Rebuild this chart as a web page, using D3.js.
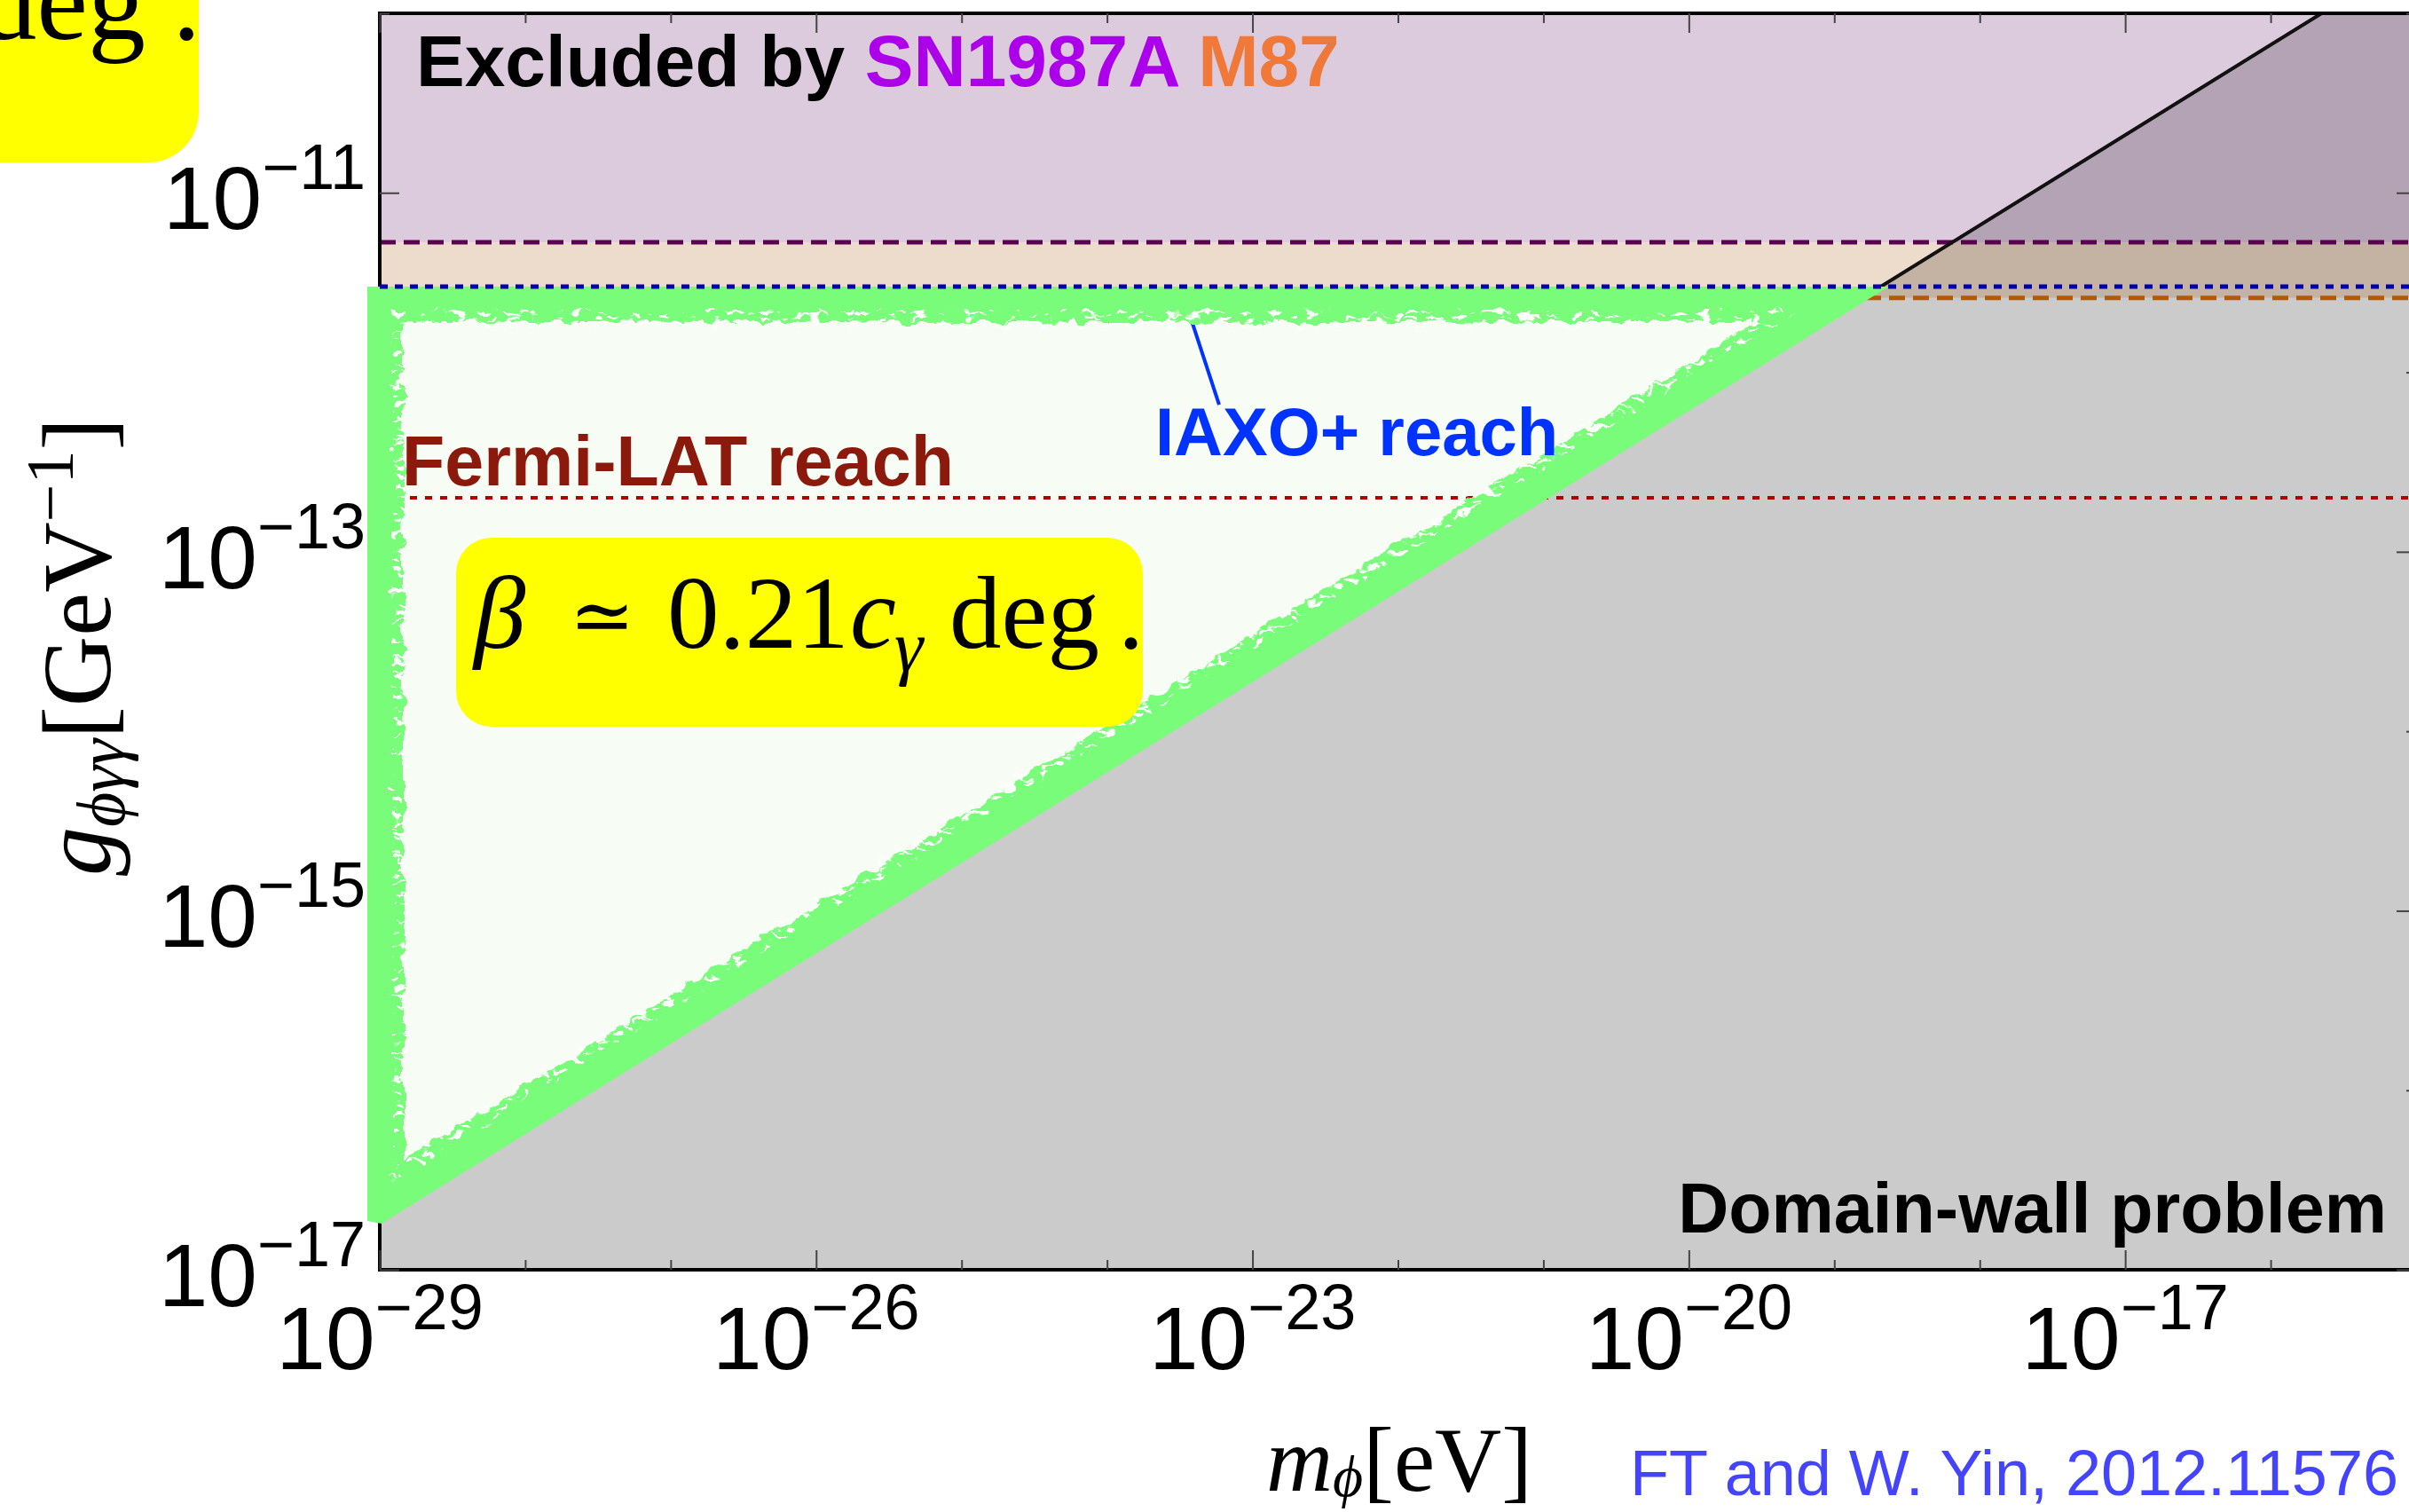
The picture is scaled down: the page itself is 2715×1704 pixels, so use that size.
<!DOCTYPE html>
<html>
<head>
<meta charset="utf-8">
<script src="https://cdn.jsdelivr.net/npm/d3@7"></script>
<style>
  html, body { margin: 0; padding: 0; background: #fff; }
  svg { display: block; }
  .sans { font-family: "Liberation Sans", Arial, Helvetica, sans-serif; }
  .serif { font-family: "Liberation Serif", "Times New Roman", serif; }
</style>
</head>
<body>
<div id="chart"></div>
<script>
// axis ranges
const xDomain = [1e-29, 1e-15];
const yDomain = [1e-17, 1e-10];
const xMajorExp = [-29, -26, -23, -20, -17];
const xMinorExp = [-28, -27, -25, -24, -22, -21, -19, -18, -16, -15];
const yMajorExp = [-17, -15, -13, -11];
const yMinorExp = [-16, -14, -12, -10];

// horizontal limits on g [GeV^-1]
const limitNames = ['SN1987A', 'M87', 'IAXO+', 'Fermi-LAT'];
const limitG = [5.3e-12, 2.6e-12, 3.0e-12, 2.0e-13];

// domain-wall boundary, g grows like sqrt(m)
const domainWallM = [1e-29, 2.24e-16];
const domainWallG = [1.96e-17, 1e-10];

// IAXO+ label pointer (m, g)
const pointerM = [3.2e-24, 5.9e-24];
const pointerG = [3.0e-12, 6.6e-13];

const W = 2715, H = 1704;
const plot = { left: 428, right: 2723, top: 15, bottom: 1431 };

const x = d3.scaleLog().domain(xDomain).range([plot.left, plot.right]);
const y = d3.scaleLog().domain(yDomain).range([plot.bottom, plot.top]);
const line = d3.line().x(d => x(d[0])).y(d => y(d[1]));

// log-log interpolation along the domain-wall line
const slope = Math.log10(domainWallG[1] / domainWallG[0]) / Math.log10(domainWallM[1] / domainWallM[0]);
const gDW = m => domainWallG[0] * Math.pow(m / domainWallM[0], slope);
const mDW = g => domainWallM[0] * Math.pow(g / domainWallG[0], 1 / slope);

const [gSN, gM87, gIAXO, gFermi] = limitG;

const svg = d3.select('#chart').append('svg')
  .attr('width', W).attr('height', H)
  .attr('viewBox', `0 0 ${W} ${H}`);

const defs = svg.append('defs');

const dwPoly = [
  [xDomain[0], gDW(xDomain[0])],
  [domainWallM[1], domainWallG[1]],
  [xDomain[1], yDomain[1]],
  [xDomain[1], yDomain[0]],
  [xDomain[0], yDomain[0]]
];
const tri = [
  [xDomain[0], gIAXO],
  [mDW(gIAXO), gIAXO],
  [xDomain[0], gDW(xDomain[0])]
];

defs.append('clipPath').attr('id', 'plotClip').append('rect')
  .attr('x', plot.left).attr('y', plot.top)
  .attr('width', plot.right - plot.left).attr('height', plot.bottom - plot.top);
defs.append('clipPath').attr('id', 'dwClip').append('path').attr('d', line(dwPoly) + 'Z');

// clip for the scribble: the triangle, pushed a little past the left axis and over the diagonal
const triPx = tri.map(d => [x(d[0]), y(d[1])]);
const clipPts = [
  [triPx[0][0] - 14, triPx[0][1]],
  [triPx[1][0] + 9, triPx[1][1]],
  [triPx[2][0] + 2, triPx[2][1] + 7],
  [triPx[2][0] - 14, triPx[2][1] + 4]
];
defs.append('clipPath').attr('id', 'triClip').append('path')
  .attr('d', 'M' + clipPts.join('L') + 'Z');

// scribble outline: same triangle, left side nudged out so the band is thinner there
const scribPx = [[triPx[0][0] - 13, triPx[0][1]], triPx[1], [triPx[2][0] - 13, triPx[2][1] + 8]];
const scribPath = 'M' + scribPx.join('L') + 'Z';

const rough = defs.append('filter').attr('id', 'rough')
  .attr('x', '-10%').attr('y', '-10%').attr('width', '120%').attr('height', '120%');
rough.append('feTurbulence').attr('type', 'fractalNoise').attr('baseFrequency', '0.05')
  .attr('numOctaves', 3).attr('seed', 4).attr('result', 'n');
rough.append('feDisplacementMap').attr('in', 'SourceGraphic').attr('in2', 'n')
  .attr('scale', 16).attr('xChannelSelector', 'R').attr('yChannelSelector', 'G');

const speck = defs.append('filter').attr('id', 'speck')
  .attr('x', '-5%').attr('y', '-5%').attr('width', '110%').attr('height', '110%');
speck.append('feTurbulence').attr('type', 'fractalNoise').attr('baseFrequency', '0.07 0.18')
  .attr('numOctaves', 2).attr('seed', 9).attr('result', 't');
speck.append('feColorMatrix').attr('in', 't').attr('type', 'matrix')
  .attr('values', '0 0 0 0 0.97  0 0 0 0 0.99  0 0 0 0 0.96  16 0 0 0 -9.2').attr('result', 'b');
speck.append('feComposite').attr('in', 'b').attr('in2', 'SourceGraphic').attr('operator', 'in');

const triPath = line(tri) + 'Z';
const mask = defs.append('mask').attr('id', 'innerMask').attr('maskUnits', 'userSpaceOnUse')
  .attr('x', 0).attr('y', 0).attr('width', W).attr('height', H);
mask.append('path').attr('d', scribPath).attr('fill', 'none').attr('stroke', '#fff').attr('stroke-width', 92);
mask.append('path').attr('d', scribPath).attr('fill', 'none').attr('stroke', '#000').attr('stroke-width', 54);

// ---- background regions ----
const pg = svg.append('g').attr('clip-path', 'url(#plotClip)');
pg.append('rect').attr('x', plot.left).attr('y', plot.top)
  .attr('width', plot.right - plot.left).attr('height', plot.bottom - plot.top).attr('fill', '#fff');
pg.append('rect').attr('x', plot.left).attr('y', y(yDomain[1]))
  .attr('width', plot.right - plot.left).attr('height', y(gSN) - y(yDomain[1])).attr('fill', '#dccbdd');
pg.append('rect').attr('x', plot.left).attr('y', y(gSN))
  .attr('width', plot.right - plot.left).attr('height', y(gM87) - y(gSN)).attr('fill', '#eddbcc');

const dw = pg.append('g').attr('clip-path', 'url(#dwClip)');
dw.append('rect').attr('x', plot.left).attr('y', plot.top)
  .attr('width', plot.right - plot.left).attr('height', plot.bottom - plot.top).attr('fill', '#cbcbcb');
dw.append('rect').attr('x', plot.left).attr('y', y(yDomain[1]))
  .attr('width', plot.right - plot.left).attr('height', y(gSN) - y(yDomain[1])).attr('fill', '#b3a3b5');
dw.append('rect').attr('x', plot.left).attr('y', y(gSN))
  .attr('width', plot.right - plot.left).attr('height', y(gM87) - y(gSN)).attr('fill', '#c4b3a3');

// allowed triangle
pg.append('path').attr('d', triPath).attr('fill', '#f7fcf5');

// limit lines
const hline = (g, color, width, dash) => pg.append('line')
  .attr('x1', plot.left).attr('x2', plot.right).attr('y1', y(g)).attr('y2', y(g))
  .attr('stroke', color).attr('stroke-width', width).attr('stroke-dasharray', dash);
hline(gSN, '#5a0050', 5, '18,9');
hline(gM87, '#b35900', 5, '18,9');
hline(gFermi, '#b00000', 4, '8,9');

// domain-wall boundary
pg.append('path').attr('d', line(domainWallM.map((m, i) => [m, domainWallG[i]])))
  .attr('fill', 'none').attr('stroke', '#111').attr('stroke-width', 4);

// pointer from IAXO+ label
svg.append('path').attr('d', line(pointerM.map((m, i) => [m, pointerG[i]])))
  .attr('stroke', '#0033ff').attr('stroke-width', 4).attr('fill', 'none');

// frame
svg.append('rect').attr('x', plot.left).attr('y', plot.top)
  .attr('width', plot.right - plot.left).attr('height', plot.bottom - plot.top)
  .attr('fill', 'none').attr('stroke', '#000').attr('stroke-width', 4);

// ticks
const tickStyle = sel => {
  sel.select('.domain').remove();
  sel.selectAll('line').attr('stroke', '#444').attr('stroke-width', 2);
};
const pow = e => Math.pow(10, e);
[[xMajorExp, 22], [xMinorExp, 11]].forEach(([ex, len]) => {
  svg.append('g').attr('transform', `translate(0,${plot.bottom})`)
    .call(d3.axisBottom(x).tickValues(ex.map(pow)).tickSize(-len).tickFormat('')).call(tickStyle);
  svg.append('g').attr('transform', `translate(0,${plot.top})`)
    .call(d3.axisTop(x).tickValues(ex.map(pow)).tickSize(-len).tickFormat('')).call(tickStyle);
});
[[yMajorExp, 22], [yMinorExp, 11]].forEach(([ex, len]) => {
  svg.append('g').attr('transform', `translate(${plot.left},0)`)
    .call(d3.axisLeft(y).tickValues(ex.map(pow)).tickSize(-len).tickFormat('')).call(tickStyle);
  svg.append('g').attr('transform', `translate(${plot.right},0)`)
    .call(d3.axisRight(y).tickValues(ex.map(pow)).tickSize(-len).tickFormat('')).call(tickStyle);
});

// green scribble around the allowed triangle
const gg = svg.append('g').attr('clip-path', 'url(#triClip)');
const rg = gg.append('g').attr('filter', 'url(#rough)');
rg.append('path').attr('d', scribPath).attr('fill', 'none')
  .attr('stroke', '#78fc7a').attr('stroke-width', 80).attr('stroke-linejoin', 'round');
rg.append('g').attr('mask', 'url(#innerMask)').append('path').attr('d', scribPath)
  .attr('fill', 'none').attr('stroke', '#fff').attr('stroke-width', 92).attr('filter', 'url(#speck)');

// IAXO+ line on top
svg.append('line').attr('x1', plot.left).attr('x2', plot.right)
  .attr('y1', y(gIAXO)).attr('y2', y(gIAXO))
  .attr('stroke', '#0000aa').attr('stroke-width', 5).attr('stroke-dasharray', '9,8')
  .attr('clip-path', 'url(#plotClip)');

// tick labels
const powLabel = (sel, e) => {
  sel.append('tspan').text('10');
  sel.append('tspan').attr('font-size', 72).attr('dy', -45).text('\u2212' + Math.abs(e));
};
xMajorExp.forEach(e => {
  svg.append('text').attr('class', 'sans').attr('font-size', 100)
    .attr('x', x(pow(e))).attr('y', 1543).attr('text-anchor', 'middle')
    .call(powLabel, e);
});
yMajorExp.forEach(e => {
  svg.append('text').attr('class', 'sans').attr('font-size', 100)
    .attr('x', 412).attr('y', y(pow(e)) + 41).attr('text-anchor', 'end')
    .call(powLabel, e);
});

// axis titles
const yt = svg.append('text').attr('class', 'serif').attr('font-size', 110)
  .attr('transform', 'translate(124,987) rotate(-90)');
yt.append('tspan').attr('font-style', 'italic').text('g');
yt.append('tspan').attr('font-style', 'italic').attr('font-size', 76).attr('dy', 16).text('\u03d5\u03b3\u03b3');
yt.append('tspan').attr('dy', -16).text('[GeV');
yt.append('tspan').attr('font-size', 76).attr('dy', -42).text('\u22121');
yt.append('tspan').attr('dy', 42).text(']');

const xt = svg.append('text').attr('class', 'serif').attr('font-size', 104)
  .attr('x', 1427).attr('y', 1680);
xt.append('tspan').attr('font-style', 'italic').text('m');
xt.append('tspan').attr('font-style', 'italic').attr('font-size', 66).attr('dy', 6).text('\u03d5');
xt.append('tspan').attr('dy', -6).text('[eV]');

// region labels
const ex = svg.append('text').attr('class', 'sans').attr('font-size', 82).attr('font-weight', 'bold')
  .attr('x', 469).attr('y', 97);
ex.append('tspan').attr('fill', '#000').text('Excluded by ');
ex.append('tspan').attr('fill', '#ad00ea').text(limitNames[0] + ' ');
ex.append('tspan').attr('fill', '#f07838').text(limitNames[1]);

svg.append('text').attr('class', 'sans').attr('font-size', 76).attr('font-weight', 'bold')
  .attr('x', 1302).attr('y', 513).attr('fill', '#0033ff').text(limitNames[2] + ' reach');
svg.append('text').attr('class', 'sans').attr('font-size', 79).attr('font-weight', 'bold')
  .attr('x', 453).attr('y', 547).attr('fill', '#8b1a0c').text(limitNames[3] + ' reach');
svg.append('text').attr('class', 'sans').attr('font-size', 79).attr('font-weight', 'bold')
  .attr('x', 2690).attr('y', 1389).attr('text-anchor', 'end').attr('fill', '#000').text('Domain-wall problem');
svg.append('text').attr('class', 'sans').attr('font-size', 72)
  .attr('x', 2703).attr('y', 1685).attr('text-anchor', 'end').attr('fill', '#4444ff').text('FT and W. Yin, 2012.11576');

// yellow boxes
svg.append('rect').attr('x', 514).attr('y', 606).attr('width', 774).attr('height', 213)
  .attr('rx', 40).attr('fill', '#ffff00');
const bt = svg.append('text').attr('class', 'serif').attr('font-size', 117).attr('y', 730).attr('fill', '#000');
bt.append('tspan').attr('x', 534).attr('font-style', 'italic').text('\u03b2');
bt.append('tspan').attr('x', 642).attr('font-size', 88).attr('dy', -6)
  .style('font-family', '"DejaVu Serif", serif').text('\u2243');
bt.append('tspan').attr('x', 752).attr('dy', 6).text('0.21');
bt.append('tspan').attr('x', 958).attr('font-style', 'italic').text('c');
bt.append('tspan').attr('x', 1008).attr('dy', 26).attr('font-style', 'italic').attr('font-size', 82).text('\u03b3');
bt.append('tspan').attr('x', 1070).attr('dy', -26).text('deg');
bt.append('tspan').attr('x', 1260).text('.');

svg.append('rect').attr('x', -80).attr('y', -80).attr('width', 304).attr('height', 263)
  .attr('rx', 57).attr('fill', '#ffff00');
const tl = svg.append('text').attr('class', 'serif').attr('font-size', 130).attr('y', 44).attr('fill', '#000');
tl.append('tspan').attr('x', 164).attr('text-anchor', 'end').text('deg');
tl.append('tspan').attr('x', 194).text('.');
</script>
</body>
</html>
